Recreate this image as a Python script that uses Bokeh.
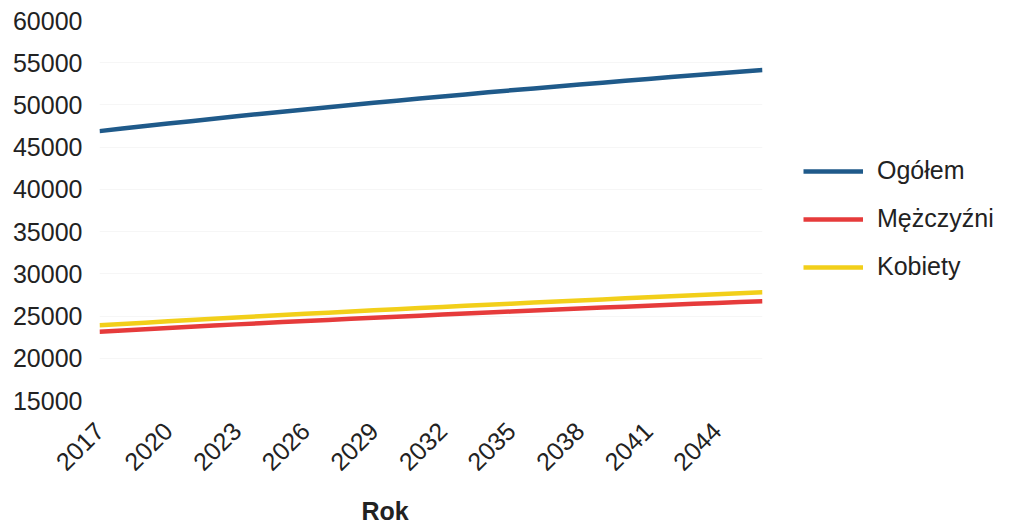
from bokeh.plotting import figure
from bokeh.models import Range1d, FixedTicker, Legend, LegendItem, Title
from bokeh.embed import file_html
from bokeh.resources import INLINE
import math

years = list(range(2017, 2047))
ogolem = [46900, 47200, 47500, 47790, 48080, 48370, 48650, 48930, 49200, 49470,
          49740, 50000, 50260, 50510, 50760, 51010, 51250, 51490, 51730, 51960,
          52190, 52420, 52640, 52860, 53080, 53300, 53510, 53720, 53930, 54140]
kobiety = [23900, 24060, 24220, 24375, 24530, 24680, 24830, 24975, 25120, 25260,
           25400, 25540, 25675, 25810, 25945, 26080, 26210, 26340, 26470, 26600,
           26725, 26850, 26975, 27100, 27220, 27340, 27460, 27580, 27695, 27810]
mezczyzni = [23150, 23300, 23445, 23590, 23735, 23875, 24015, 24150, 24285, 24415,
             24545, 24675, 24800, 24925, 25050, 25175, 25295, 25415, 25535, 25655,
             25770, 25885, 26000, 26115, 26225, 26335, 26445, 26555, 26660, 26765]
x_ticks = list(range(2017, 2047, 3))
y_ticks = list(range(15000, 60001, 5000))
series_names = ["Ogółem", "Mężczyźni", "Kobiety"]
colors = ["#1f5a8a", "#e63b3b", "#f2cf1a"]
x_title = "Rok"

FONT = "Liberation Sans"
TXT = "#222222"

p = figure(frame_width=663, frame_height=380, output_backend="svg", toolbar_location=None,
           x_range=Range1d(years[0], years[-1]), y_range=Range1d(y_ticks[0], y_ticks[-1]),
           min_border_left=99, min_border_right=0, min_border_top=20, min_border_bottom=129)
p.outline_line_color = None
p.background_fill_color = "white"

renderers = []
for name, ys, c in zip(series_names, [ogolem, mezczyzni, kobiety], colors):
    r = p.line(years, ys, line_color=c, line_width=4.5)
    renderers.append((name, r))

p.xaxis.ticker = FixedTicker(ticks=x_ticks)
p.yaxis.ticker = FixedTicker(ticks=y_ticks)
for ax in (p.xaxis[0], p.yaxis[0]):
    ax.axis_line_color = None
    ax.major_tick_line_color = None
    ax.minor_tick_line_color = None
    ax.major_tick_out = 0
    ax.major_tick_in = 0
    ax.major_label_text_font = FONT
    ax.major_label_text_font_size = "25px"
    ax.major_label_text_color = TXT
p.yaxis.major_label_standoff = 17
p.xaxis.major_label_standoff = 26
p.xaxis.major_label_orientation = math.pi / 4

p.xgrid.grid_line_color = None
p.ygrid.grid_line_color = "#f6f6f6"

legend = Legend(items=[LegendItem(label=n, renderers=[r]) for n, r in renderers],
                location=(41, 119), orientation="vertical",
                label_text_font=FONT, label_text_font_size="25px", label_text_color=TXT,
                glyph_width=60, glyph_height=28, label_standoff=14, spacing=19,
                padding=0, margin=0, border_line_color=None, background_fill_alpha=0)
p.add_layout(legend, "right")

title = Title(text=x_title, align="left", offset=262, text_font=FONT, text_font_size="25px",
              text_font_style="bold", text_color=TXT, standoff=27)
p.add_layout(title, "below")

open("out.html", "w").write(file_html(p, INLINE))
